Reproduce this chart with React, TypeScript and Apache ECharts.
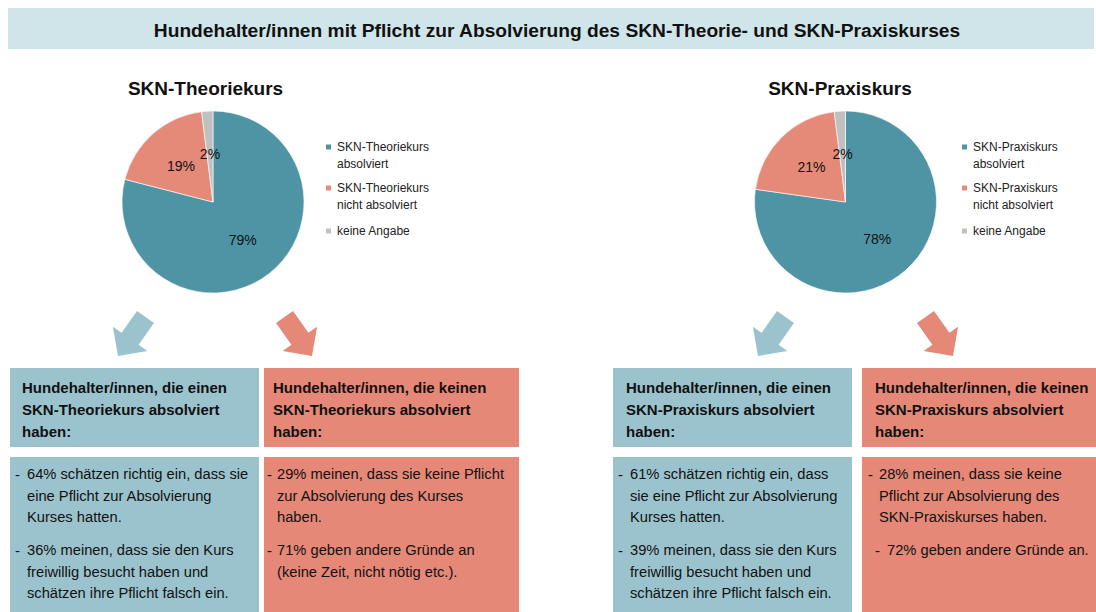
import React, { useEffect, useRef } from "react";
import * as echarts from "echarts";

// ---------- data ----------
const mainTitle =
  "Hundehalter/innen mit Pflicht zur Absolvierung des SKN-Theorie- und SKN-Praxiskurses";
const pieTitles = ["SKN-Theoriekurs", "SKN-Praxiskurs"];

const theoryCategories = [
  "SKN-Theoriekurs\nabsolviert",
  "SKN-Theoriekurs\nnicht absolviert",
  "keine Angabe",
];
const theoryValues = [79, 19, 2];

const practiceCategories = [
  "SKN-Praxiskurs\nabsolviert",
  "SKN-Praxiskurs\nnicht absolviert",
  "keine Angabe",
];
const practiceValues = [78, 21, 2];

const sliceColors = ["#4E94A5", "#E58A78", "#C0C0C0"];

const headerTexts = [
  "Hundehalter/innen, die einen\nSKN-Theoriekurs absolviert\nhaben:",
  "Hundehalter/innen, die keinen\nSKN-Theoriekurs absolviert\nhaben:",
  "Hundehalter/innen, die einen\nSKN-Praxiskurs absolviert\nhaben:",
  "Hundehalter/innen, die keinen\nSKN-Praxiskurs absolviert\nhaben:",
];

const bulletTexts = [
  [
    "64% schätzen richtig ein, dass sie\neine Pflicht zur Absolvierung\nKurses hatten.",
    "36% meinen, dass sie den Kurs\nfreiwillig besucht haben und\nschätzen ihre Pflicht falsch ein.",
  ],
  [
    "29% meinen, dass sie keine Pflicht\nzur Absolvierung des Kurses\nhaben.",
    "71% geben andere Gründe an\n(keine Zeit, nicht nötig etc.).",
  ],
  [
    "61% schätzen richtig ein, dass\nsie eine Pflicht zur Absolvierung\nKurses hatten.",
    "39% meinen, dass sie den Kurs\nfreiwillig besucht haben und\nschätzen ihre Pflicht falsch ein.",
  ],
  [
    "28% meinen, dass sie keine\nPflicht zur Absolvierung des\nSKN-Praxiskurses haben.",
    "72% geben andere Gründe an.",
  ],
];

// ---------- layout ----------
const FONT = "'Liberation Sans', Arial, Helvetica, sans-serif";
const BLUE_BOX = "#9BC3CD";
const RED_BOX = "#E58878";
const TITLE_BAR = "#D0E5EA";

const boxCols = [
  { x: 10, w: 249, color: BLUE_BOX, headX: 22, dashX: 15, textX: 27, dash2X: 15, text2X: 27 },
  { x: 264, w: 255, color: RED_BOX, headX: 273, dashX: 267, textX: 277, dash2X: 267, text2X: 277 },
  { x: 613, w: 239, color: BLUE_BOX, headX: 626, dashX: 618, textX: 630, dash2X: 618, text2X: 630 },
  { x: 862, w: 234, color: RED_BOX, headX: 875, dashX: 868, textX: 879, dash2X: 875, text2X: 887 },
];

const pieCenters: [number, number][] = [
  [213, 202],
  [845.5, 202],
];
const legendTextX = [336, 972];
const legendLineY = [147, 188, 231];

function arrowPoints(mirror: boolean, axis: number, dx: number): number[][] {
  const base = [
    [154, 323],
    [138.6, 344.8],
    [147.3, 350.9],
    [118, 356],
    [112.9, 326.7],
    [121.6, 332.8],
    [137, 311],
  ];
  return base.map(([x, y]) => [(mirror ? 2 * axis - x : x) + dx, y]);
}

export default function App() {
  const ref = useRef<HTMLDivElement>(null);

  useEffect(() => {
    document.body.style.margin = "0";
    if (!ref.current) return;
    const chart = echarts.init(ref.current, undefined, { renderer: "svg" });

    const pies = [
      { cats: theoryCategories, vals: theoryValues },
      { cats: practiceCategories, vals: practiceValues },
    ];

    const series: any[] = pies.map((p, pi) => ({
      type: "pie",
      center: pieCenters[pi],
      radius: 91,
      startAngle: 90,
      clockwise: true,
      silent: true,
      data: p.cats.map((c, i) => ({
        name: c,
        value: p.vals[i],
        itemStyle: { color: sliceColors[i] },
      })),
      itemStyle: { borderColor: "#ffffff", borderWidth: 0.6 },
      label: {
        show: true,
        position: "inside",
        formatter: "{c}%",
        fontFamily: FONT,
        fontSize: 14,
        color: "#111",
      },
      labelLine: { show: false },
      emphasis: { disabled: true },
    }));

    const legends: any[] = [];
    pies.forEach((p, pi) => {
      p.cats.forEach((c, i) => {
        const twoLine = c.includes("\n");
        const iconCenter = legendLineY[i];
        // two-line items get a leading empty line so the first text line sits at the icon
        const top = twoLine ? iconCenter - 25.5 : iconCenter - 8.5;
        legends.push({
          show: true,
          orient: "vertical",
          left: legendTextX[pi] - 12,
          top,
          padding: 0,
          itemWidth: 7,
          itemHeight: 7,
          icon: "rect",
          selectedMode: false,
          formatter: (name: string) => (name.includes("\n") ? "\n" + name : name),
          textStyle: {
            fontFamily: FONT,
            fontSize: 12,
            lineHeight: 17,
            color: "#222",
          },
          data: [
            {
              name: c,
              itemStyle: { color: sliceColors[i] },
            },
          ],
        });
      });
    });

    const graphics: any[] = [];
    graphics.push({
      type: "rect",
      shape: { x: 8, y: 8, width: 1086, height: 41 },
      style: { fill: TITLE_BAR },
      silent: true,
    });
    graphics.push({
      type: "text",
      x: 557,
      y: 30,
      style: {
        text: mainTitle,
        fontFamily: FONT,
        fontWeight: "bold",
        fontSize: 19.2,
        fill: "#111",
        textAlign: "center",
        textVerticalAlign: "middle",
      },
      silent: true,
    });
    const subTitleX = [205.5, 840];
    pieTitles.forEach((t, i) => {
      graphics.push({
        type: "text",
        x: subTitleX[i],
        y: 88,
        style: {
          text: t,
          fontFamily: FONT,
          fontWeight: "bold",
          fontSize: 19,
          fill: "#111",
          textAlign: "center",
          textVerticalAlign: "middle",
        },
        silent: true,
      });
    });

    // arrows
    const arrows = [
      { pts: arrowPoints(false, 215, 0), color: BLUE_BOX },
      { pts: arrowPoints(true, 215, 0), color: RED_BOX },
      { pts: arrowPoints(false, 215, 640), color: BLUE_BOX },
      { pts: arrowPoints(true, 215, 641), color: RED_BOX },
    ];
    arrows.forEach((a) =>
      graphics.push({
        type: "polygon",
        shape: { points: a.pts },
        style: { fill: a.color },
        silent: true,
      })
    );

    boxCols.forEach((b, bi) => {
      graphics.push({
        type: "rect",
        shape: { x: b.x, y: 368, width: b.w, height: 79 },
        style: { fill: b.color },
        silent: true,
      });
      graphics.push({
        type: "rect",
        shape: { x: b.x, y: 457, width: b.w, height: 160 },
        style: { fill: b.color },
        silent: true,
      });
      graphics.push({
        type: "text",
        x: b.headX,
        y: 376,
        style: {
          text: headerTexts[bi],
          fontFamily: FONT,
          fontWeight: "bold",
          fontSize: 15,
          lineHeight: 22,
          fill: "#111",
          textAlign: "left",
          textVerticalAlign: "top",
        },
        silent: true,
      });
      const bulletY = [463.25, 539.25];
      bulletTexts[bi].forEach((txt, k) => {
        const dx = k === 0 ? b.dashX : b.dash2X;
        const tx = k === 0 ? b.textX : b.text2X;
        graphics.push({
          type: "text",
          x: dx,
          y: bulletY[k],
          style: {
            text: "-",
            fontFamily: FONT,
            fontSize: 15,
            lineHeight: 21.5,
            fill: "#111",
            textAlign: "left",
            textVerticalAlign: "top",
          },
          silent: true,
        });
        graphics.push({
          type: "text",
          x: tx,
          y: bulletY[k],
          style: {
            text: txt,
            fontFamily: FONT,
            fontSize: 14.7,
            lineHeight: 21.5,
            fill: "#111",
            textAlign: "left",
            textVerticalAlign: "top",
          },
          silent: true,
        });
      });
    });

    chart.setOption({
      animation: false,
      backgroundColor: "#ffffff",
      textStyle: { fontFamily: FONT },
      legend: legends,
      series,
      graphic: { elements: graphics },
    });

    return () => chart.dispose();
  }, []);

  return <div ref={ref} style={{ width: 1096, height: 612 }} />;
}
